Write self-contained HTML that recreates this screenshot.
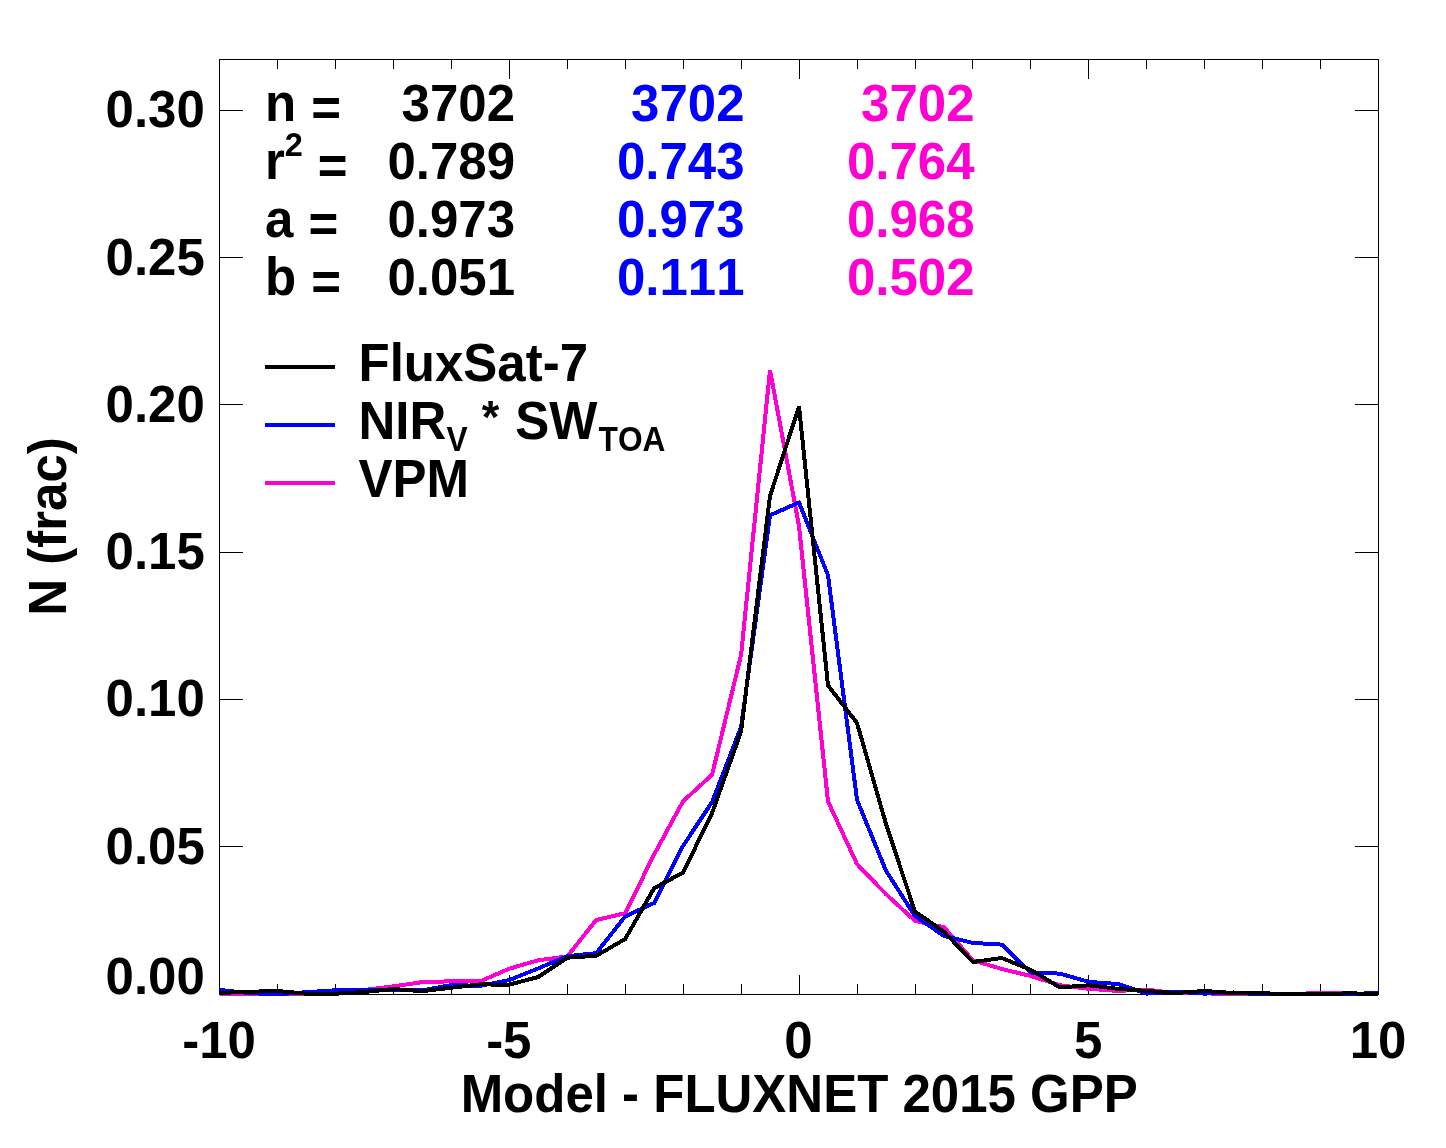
<!DOCTYPE html>
<html lang="en"><head><meta charset="utf-8"><title>Model - FLUXNET 2015 GPP histogram</title>
<style>html,body{margin:0;padding:0;background:#fff}body{width:1446px;height:1148px;overflow:hidden}svg{display:block}text{font-family:"Liberation Sans",Arial,Helvetica,sans-serif;font-weight:bold;font-size:51px;font-kerning:none;font-variant-ligatures:none}.k{fill:#000}.b{fill:#0000ff}.m{fill:#ff00d2}.e{text-anchor:end}.c{text-anchor:middle}</style></head><body>
<svg width="1446" height="1148" viewBox="0 0 1446 1148">
<rect width="1446" height="1148" fill="#fff"/>
<g fill="#000" shape-rendering="crispEdges">
<rect x="219" y="59" width="1160" height="1"/><rect x="219" y="994" width="1160" height="1"/>
<rect x="219" y="59" width="1" height="936"/><rect x="1378" y="59" width="1" height="936"/>
<rect x="277" y="59" width="1" height="10"/><rect x="277" y="984" width="1" height="11"/>
<rect x="335" y="59" width="1" height="10"/><rect x="335" y="984" width="1" height="11"/>
<rect x="393" y="59" width="1" height="10"/><rect x="393" y="984" width="1" height="11"/>
<rect x="451" y="59" width="1" height="10"/><rect x="451" y="984" width="1" height="11"/>
<rect x="509" y="59" width="1" height="20"/><rect x="509" y="975" width="1" height="20"/>
<rect x="567" y="59" width="1" height="10"/><rect x="567" y="984" width="1" height="11"/>
<rect x="625" y="59" width="1" height="10"/><rect x="625" y="984" width="1" height="11"/>
<rect x="683" y="59" width="1" height="10"/><rect x="683" y="984" width="1" height="11"/>
<rect x="741" y="59" width="1" height="10"/><rect x="741" y="984" width="1" height="11"/>
<rect x="799" y="59" width="1" height="20"/><rect x="799" y="975" width="1" height="20"/>
<rect x="857" y="59" width="1" height="10"/><rect x="857" y="984" width="1" height="11"/>
<rect x="915" y="59" width="1" height="10"/><rect x="915" y="984" width="1" height="11"/>
<rect x="972" y="59" width="1" height="10"/><rect x="972" y="984" width="1" height="11"/>
<rect x="1030" y="59" width="1" height="10"/><rect x="1030" y="984" width="1" height="11"/>
<rect x="1088" y="59" width="1" height="20"/><rect x="1088" y="975" width="1" height="20"/>
<rect x="1146" y="59" width="1" height="10"/><rect x="1146" y="984" width="1" height="11"/>
<rect x="1204" y="59" width="1" height="10"/><rect x="1204" y="984" width="1" height="11"/>
<rect x="1262" y="59" width="1" height="10"/><rect x="1262" y="984" width="1" height="11"/>
<rect x="1320" y="59" width="1" height="10"/><rect x="1320" y="984" width="1" height="11"/>
<rect x="219" y="993" width="24" height="1"/><rect x="1355" y="993" width="24" height="1"/>
<rect x="219" y="846" width="24" height="1"/><rect x="1355" y="846" width="24" height="1"/>
<rect x="219" y="699" width="24" height="1"/><rect x="1355" y="699" width="24" height="1"/>
<rect x="219" y="552" width="24" height="1"/><rect x="1355" y="552" width="24" height="1"/>
<rect x="219" y="404" width="24" height="1"/><rect x="1355" y="404" width="24" height="1"/>
<rect x="219" y="257" width="24" height="1"/><rect x="1355" y="257" width="24" height="1"/>
<rect x="219" y="110" width="24" height="1"/><rect x="1355" y="110" width="24" height="1"/>
</g>
<clipPath id="pc"><rect x="218" y="56" width="1163" height="940"/></clipPath>
<g fill="none" stroke-width="4" stroke-linejoin="miter" stroke-linecap="butt" shape-rendering="crispEdges" clip-path="url(#pc)">
<polyline stroke="#ff00d2" points="219.5,994.7 248.5,994.7 277.4,994.7 306.4,994.0 335.4,993.0 364.4,990.0 393.4,986.4 422.3,982.1 451.3,981.3 480.3,981.3 509.2,968.7 538.2,960.3 567.2,956.5 596.2,920.0 625.2,913.2 654.1,854.5 683.1,801.2 712.1,774.7 741.1,654.8 770.0,370.0 799.0,526.0 828.0,801.5 857.0,864.1 885.9,894.1 914.9,920.8 943.9,927.2 972.9,960.3 1001.8,969.0 1030.8,976.0 1059.8,985.3 1088.8,988.8 1117.7,990.9 1146.7,989.5 1175.7,993.4 1204.7,993.2 1233.6,994.5 1262.6,994.6 1291.6,994.0 1320.5,993.0 1349.5,993.2 1378.5,994.5"/>
<polyline stroke="#0000ff" points="219.5,990.0 248.5,993.0 277.4,994.4 306.4,992.2 335.4,990.3 364.4,989.6 393.4,989.5 422.3,990.3 451.3,985.1 480.3,985.8 509.2,980.1 538.2,968.4 567.2,956.2 596.2,953.2 625.2,916.4 654.1,903.0 683.1,845.8 712.1,802.0 741.1,727.0 770.0,515.3 799.0,502.5 828.0,575.3 857.0,799.8 885.9,870.6 914.9,915.9 943.9,935.9 972.9,942.9 1001.8,944.6 1030.8,972.5 1059.8,973.6 1088.8,981.9 1117.7,984.0 1146.7,993.6 1175.7,991.7 1204.7,993.6 1233.6,992.5 1262.6,994.5 1291.6,994.3 1320.5,994.2 1349.5,994.6 1378.5,992.5"/>
<polyline stroke="#000" points="219.5,993.0 248.5,991.8 277.4,991.0 306.4,993.7 335.4,993.7 364.4,992.0 393.4,989.0 422.3,991.2 451.3,987.7 480.3,984.4 509.2,984.7 538.2,977.0 567.2,957.7 596.2,955.8 625.2,939.0 654.1,888.2 683.1,872.5 712.1,813.0 741.1,731.5 770.0,496.0 799.0,406.5 828.0,685.4 857.0,723.0 885.9,823.6 914.9,911.5 943.9,931.6 972.9,962.0 1001.8,958.0 1030.8,969.9 1059.8,987.4 1088.8,985.3 1117.7,988.8 1146.7,990.9 1175.7,993.0 1204.7,991.0 1233.6,993.1 1262.6,993.3 1291.6,994.1 1320.5,994.1 1349.5,993.3 1378.5,994.1"/>
</g>
<text class="k e" transform="translate(204.8 994.0) scale(1 1.020)">0.00</text>
<text class="k e" transform="translate(204.8 863.5) scale(1 1.020)">0.05</text>
<text class="k e" transform="translate(204.8 716.2) scale(1 1.020)">0.10</text>
<text class="k e" transform="translate(204.8 569.0) scale(1 1.020)">0.15</text>
<text class="k e" transform="translate(204.8 421.8) scale(1 1.020)">0.20</text>
<text class="k e" transform="translate(204.8 274.5) scale(1 1.020)">0.25</text>
<text class="k e" transform="translate(204.8 127.2) scale(1 1.020)">0.30</text>
<text class="k c" transform="translate(219.0 1058.1) scale(1 1.020)">-10</text>
<text class="k c" transform="translate(508.8 1058.1) scale(1 1.020)">-5</text>
<text class="k c" transform="translate(798.5 1058.1) scale(1 1.020)">0</text>
<text class="k c" transform="translate(1088.2 1058.1) scale(1 1.020)">5</text>
<text class="k c" transform="translate(1378.0 1058.1) scale(1 1.020)">10</text>
<text class="k c" transform="translate(799.2 1112.4) scale(1 1.040)">Model - FLUXNET 2015 GPP</text>
<text class="k c" transform="translate(65.6 526.5) rotate(-90) scale(1 1.040)">N (frac)</text>
<text class="k" transform="translate(265.0 120.8) scale(1 1.040)">n <tspan dy="5" dx="1">=</tspan></text>
<text class="k e" transform="translate(515.0 120.8) scale(1 1.020)">3702</text>
<text class="b e" transform="translate(744.5 120.8) scale(1 1.020)">3702</text>
<text class="m e" transform="translate(974.5 120.8) scale(1 1.020)">3702</text>
<text class="k" transform="translate(265.0 178.8) scale(1 1.040)">r<tspan font-size="32.5" dy="-21.5">2</tspan><tspan dy="26.5" dx="0.6"> =</tspan></text>
<text class="k e" transform="translate(515.0 178.8) scale(1 1.020)">0.789</text>
<text class="b e" transform="translate(744.5 178.8) scale(1 1.020)">0.743</text>
<text class="m e" transform="translate(974.5 178.8) scale(1 1.020)">0.764</text>
<text class="k" transform="translate(265.0 236.8) scale(1 1.040)">a <tspan dy="5" dx="1">=</tspan></text>
<text class="k e" transform="translate(515.0 236.8) scale(1 1.020)">0.973</text>
<text class="b e" transform="translate(744.5 236.8) scale(1 1.020)">0.973</text>
<text class="m e" transform="translate(974.5 236.8) scale(1 1.020)">0.968</text>
<text class="k" transform="translate(265.0 294.9) scale(1 1.040)">b <tspan dy="5" dx="1">=</tspan></text>
<text class="k e" transform="translate(515.0 294.9) scale(1 1.020)">0.051</text>
<text class="b e" transform="translate(744.5 294.9) scale(1 1.020)">0.111</text>
<text class="m e" transform="translate(974.5 294.9) scale(1 1.020)">0.502</text>
<g shape-rendering="crispEdges"><rect x="265" y="365" width="70" height="4" fill="#000"/><rect x="265" y="423" width="70" height="4" fill="#0000ff"/><rect x="265" y="481" width="70" height="4" fill="#ff00d2"/></g>
<text class="k" transform="translate(358.5 381.0) scale(1 1.040)">FluxSat-7</text>
<text class="k" transform="translate(358.5 438.8) scale(1 1.040)">NIR</text>
<text class="k" style="font-size:31.7px" transform="translate(446.5 450.8) scale(1 1.09)">V</text>
<text class="k c" style="font-size:45px" transform="translate(490.6 433) scale(1 1.04)">*</text>
<text class="k" transform="translate(515.3 438.8) scale(1 1.040)">SW</text>
<text class="k" style="font-size:31.7px" transform="translate(598.6 450.8) scale(1 1.09)">TOA</text>
<text class="k" transform="translate(358.5 497.0) scale(1 1.040)">VPM</text>
</svg></body></html>
